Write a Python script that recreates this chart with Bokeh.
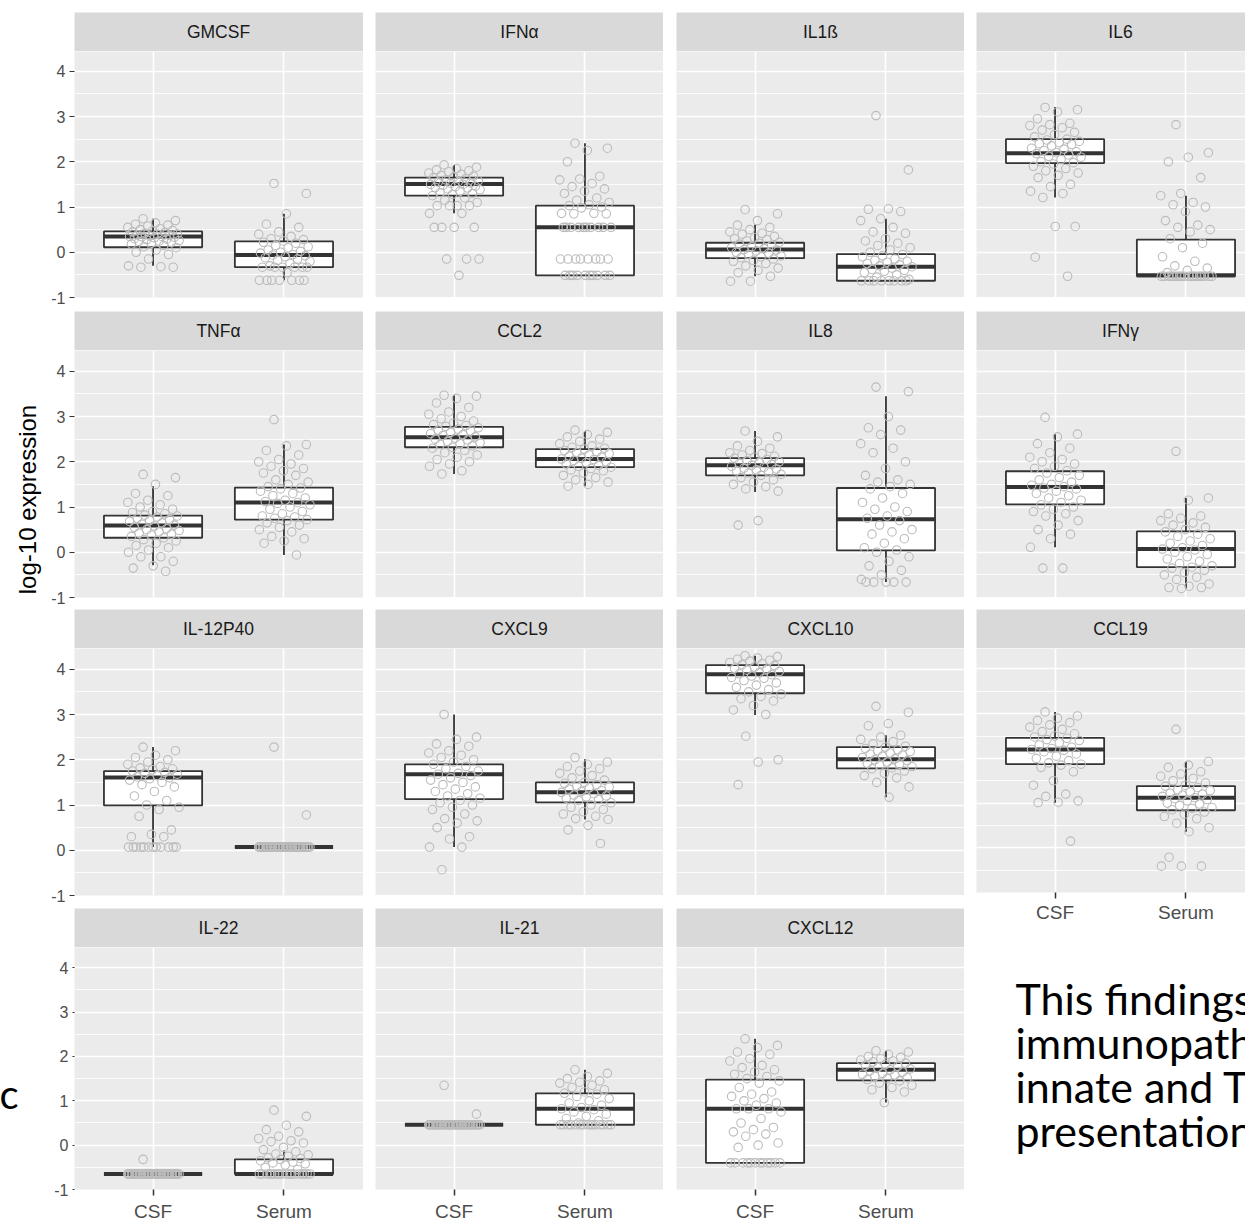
import math
from bokeh.plotting import figure
from bokeh.models import Range1d, FixedTicker, Grid, LinearAxis, Label, Spacer, ColumnDataSource
from bokeh.layouts import row, column
from bokeh.embed import file_html
from bokeh.resources import INLINE

# ---------------- data ----------------
names = ["GMCSF", "IFNα", "IL1ß", "IL6",
         "TNFα", "CCL2", "IL8", "IFNγ",
         "IL-12P40", "CXCL9", "CXCL10", "CCL19",
         "IL-22", "IL-21", "CXCL12"]
groups = ["CSF", "Serum"]
y_ticks = [-1, 0, 1, 2, 3, 4]
y_tick_text = {-1: "-1"}
y_minor = [-0.5, 0.5, 1.5, 2.5, 3.5, 4.5]

# box statistics per panel (same order as names)
q1_csf  = [0.11, 1.25, -0.13, 1.97, 0.32, 2.32, 1.70, 1.06, 0.99, 1.13, 3.47, 1.87, -0.65, 0.46, -0.40]
med_csf = [0.35, 1.51, 0.06, 2.19, 0.59, 2.54, 1.92, 1.44, 1.61, 1.68, 3.89, 2.20, -0.65, 0.46, 0.82]
q3_csf  = [0.46, 1.65, 0.21, 2.50, 0.81, 2.77, 2.08, 1.79, 1.75, 1.90, 4.09, 2.46, -0.65, 0.46, 1.48]
lo_csf  = [-0.30, 0.86, -0.53, 1.21, -0.29, 1.73, 1.33, 0.11, 0.07, 0.07, 2.99, 1.01, -0.65, 0.46, -0.40]
hi_csf  = [0.74, 1.93, 0.61, 3.21, 1.46, 3.47, 2.68, 2.61, 2.28, 3.00, 4.30, 3.04, -0.65, 0.46, 2.40]

q1_ser  = [-0.33, -0.51, -0.63, -0.53, 0.72, 1.88, 0.04, -0.33, 0.07, 1.06, 1.81, 0.84, -0.65, 0.46, 1.46]
med_ser = [-0.06, 0.55, -0.32, -0.51, 1.10, 2.06, 0.73, 0.07, 0.07, 1.28, 2.01, 1.12, -0.65, 0.82, 1.70]
q3_ser  = [0.24, 1.03, -0.04, 0.28, 1.43, 2.28, 1.42, 0.46, 0.07, 1.50, 2.28, 1.38, -0.32, 1.17, 1.85]
lo_ser  = [-0.62, -0.51, -0.63, -0.53, -0.06, 1.46, -0.66, -0.80, 0.07, 0.68, 1.17, 0.36, -0.65, 0.46, 0.96]
hi_ser  = [0.85, 2.41, 0.74, 1.25, 2.38, 2.68, 3.45, 1.20, 0.07, 2.01, 2.54, 1.93, -0.12, 1.70, 2.13]

# observed values (log10), per panel and compartment
gmcsf_csf = [0.74, 0.7, 0.65, 0.62, 0.6, 0.58, 0.55, 0.52, 0.5, 0.48, 0.47, 0.45, 0.44, 0.42, 0.4, 0.4,
             0.38, 0.37, 0.36, 0.35, 0.35, 0.34, 0.33, 0.32, 0.3, 0.29, 0.28, 0.26, 0.25, 0.24, 0.22, 0.2,
             0.18, 0.15, 0.12, 0.1, 0.05, 0.0, -0.05, -0.15, -0.3, -0.32, -0.33, -0.33]
gmcsf_ser = [1.52, 1.3, 0.85, 0.62, 0.55, 0.45, 0.4, 0.35, 0.3, 0.28, 0.25, 0.22, 0.2, 0.15, 0.12, 0.1,
             0.05, 0.02, 0.0, -0.02, -0.05, -0.06, -0.08, -0.1, -0.12, -0.15, -0.18, -0.2, -0.25, -0.3,
             -0.33, -0.33, -0.33, -0.33, -0.33, -0.33, -0.45, -0.62, -0.62, -0.62, -0.62, -0.62, -0.62, -0.62]
ifna_csf = [1.93, 1.88, 1.85, 1.82, 1.8, 1.78, 1.75, 1.72, 1.7, 1.68, 1.66, 1.65, 1.63, 1.6, 1.58, 1.56,
            1.55, 1.53, 1.52, 1.5, 1.5, 1.48, 1.46, 1.45, 1.43, 1.42, 1.4, 1.38, 1.35, 1.32, 1.3, 1.28,
            1.25, 1.2, 1.15, 1.1, 1.03, 1.03, 1.03, 1.03, 0.86, 0.86, 0.55, 0.55, 0.55, 0.55,
            -0.15, -0.15, -0.15, -0.51]
ifna_ser = [2.41, 2.3, 2.25, 2.0, 1.68, 1.62, 1.6, 1.52, 1.45, 1.4, 1.35, 1.3, 1.2, 1.15, 1.1, 1.05,
            1.03, 1.0, 0.98, 0.86, 0.86, 0.85, 0.85,
            0.55, 0.55, 0.55, 0.55, 0.55, 0.55, 0.55, 0.55, 0.55, 0.55,
            -0.15, -0.15, -0.15, -0.15, -0.15, -0.15, -0.15, -0.15,
            -0.51, -0.51, -0.51, -0.51, -0.51, -0.51, -0.51, -0.51, -0.51, -0.51]
il1b_csf = [0.94, 0.85, 0.7, 0.6, 0.55, 0.5, 0.45, 0.42, 0.4, 0.35, 0.32, 0.3, 0.28, 0.25, 0.22, 0.2,
            0.18, 0.15, 0.12, 0.1, 0.08, 0.06, 0.05, 0.03, 0.0, -0.02, -0.05, -0.08, -0.1, -0.12, -0.15,
            -0.18, -0.2, -0.25, -0.3, -0.35, -0.4, -0.45, -0.53, -0.64, -0.64]
il1b_ser = [3.02, 1.82, 0.96, 0.95, 0.9, 0.74, 0.7, 0.55, 0.45, 0.42, 0.3, 0.25, 0.2, 0.15, 0.1, 0.05,
            0.0, -0.05, -0.08, -0.1, -0.15, -0.18, -0.2, -0.22, -0.25, -0.28, -0.3, -0.32, -0.35, -0.38,
            -0.4, -0.42, -0.45, -0.5, -0.55, -0.6, -0.63, -0.63, -0.63, -0.63, -0.63, -0.63, -0.63, -0.63]
il6_csf = [3.2, 3.15, 3.1, 2.95, 2.85, 2.82, 2.8, 2.75, 2.7, 2.65, 2.6, 2.55, 2.5, 2.48, 2.45, 2.42,
           2.4, 2.38, 2.35, 2.3, 2.28, 2.25, 2.22, 2.2, 2.18, 2.15, 2.12, 2.1, 2.05, 2.0, 1.98, 1.95,
           1.9, 1.85, 1.8, 1.75, 1.7, 1.65, 1.5, 1.45, 1.35, 1.3, 1.21, 0.57, 0.57, -0.11, -0.53]
il6_ser = [2.82, 2.2, 2.1, 2.0, 1.65, 1.3, 1.25, 1.1, 1.05, 1.0, 0.9, 0.7, 0.6, 0.55, 0.5, 0.45, 0.3,
           0.2, 0.1, -0.1, -0.2, -0.3, -0.35, -0.4, -0.45,
           -0.53, -0.53, -0.53, -0.53, -0.53, -0.53, -0.53, -0.53, -0.53, -0.53, -0.53, -0.53,
           -0.53, -0.53, -0.53, -0.53, -0.53, -0.53]
tnfa_csf = [1.72, 1.65, 1.5, 1.3, 1.25, 1.15, 1.1, 1.05, 1.0, 0.95, 0.9, 0.88, 0.85, 0.82, 0.8, 0.78,
            0.75, 0.72, 0.7, 0.68, 0.65, 0.62, 0.6, 0.58, 0.55, 0.52, 0.5, 0.48, 0.45, 0.42, 0.4, 0.38,
            0.35, 0.32, 0.28, 0.25, 0.2, 0.15, 0.1, 0.05, 0.0, -0.1, -0.1, -0.2, -0.3, -0.35, -0.42]
tnfa_ser = [2.93, 2.38, 2.35, 2.25, 2.15, 2.05, 2.0, 1.95, 1.9, 1.85, 1.8, 1.75, 1.7, 1.6, 1.55, 1.5,
            1.45, 1.42, 1.4, 1.35, 1.3, 1.25, 1.2, 1.15, 1.12, 1.1, 1.08, 1.05, 1.0, 0.95, 0.9, 0.85,
            0.8, 0.78, 0.75, 0.72, 0.7, 0.65, 0.6, 0.55, 0.5, 0.45, 0.35, 0.3, 0.25, 0.2, -0.06]
ccl2_csf = [3.47, 3.45, 3.4, 3.3, 3.2, 3.1, 3.05, 3.0, 2.95, 2.9, 2.85, 2.82, 2.8, 2.78, 2.75, 2.72,
            2.7, 2.68, 2.65, 2.62, 2.6, 2.58, 2.55, 2.52, 2.5, 2.48, 2.45, 2.42, 2.4, 2.38, 2.35, 2.32,
            2.3, 2.25, 2.2, 2.15, 2.1, 2.05, 2.0, 1.95, 1.9, 1.8, 1.73]
ccl2_ser = [2.7, 2.65, 2.6, 2.55, 2.5, 2.45, 2.4, 2.35, 2.32, 2.3, 2.28, 2.25, 2.22, 2.2, 2.18, 2.15,
            2.12, 2.1, 2.08, 2.06, 2.05, 2.03, 2.0, 1.98, 1.95, 1.92, 1.9, 1.88, 1.85, 1.82, 1.8, 1.75,
            1.7, 1.65, 1.6, 1.55, 1.5, 1.46]
il8_csf = [2.68, 2.55, 2.45, 2.35, 2.3, 2.25, 2.2, 2.18, 2.15, 2.12, 2.1, 2.08, 2.05, 2.02, 2.0, 1.98,
           1.96, 1.94, 1.92, 1.9, 1.88, 1.86, 1.84, 1.82, 1.8, 1.78, 1.75, 1.72, 1.7, 1.65, 1.6, 1.55,
           1.5, 1.45, 1.4, 1.35, 0.7, 0.6]
il8_ser = [3.65, 3.55, 3.0, 2.75, 2.7, 2.6, 2.4, 2.3, 2.2, 2.0, 1.85, 1.7, 1.6, 1.55, 1.5, 1.45, 1.4,
           1.3, 1.2, 1.1, 1.0, 0.95, 0.9, 0.8, 0.75, 0.7, 0.6, 0.5, 0.45, 0.4, 0.3, 0.2, 0.1, 0.05, 0.0,
           -0.1, -0.2, -0.3, -0.4, -0.5, -0.6, -0.66, -0.66, -0.66, -0.66, -0.66]
ifng_csf = [2.98, 2.61, 2.55, 2.4, 2.3, 2.2, 2.1, 2.05, 2.0, 1.95, 1.9, 1.85, 1.8, 1.75, 1.7, 1.65,
            1.6, 1.55, 1.5, 1.48, 1.45, 1.42, 1.4, 1.35, 1.3, 1.25, 1.2, 1.15, 1.1, 1.05, 1.0, 0.95,
            0.9, 0.85, 0.8, 0.7, 0.6, 0.5, 0.4, 0.3, 0.11, -0.35, -0.35]
ifng_ser = [2.23, 1.2, 1.15, 0.85, 0.8, 0.75, 0.7, 0.65, 0.6, 0.55, 0.5, 0.45, 0.4, 0.35, 0.3, 0.25,
            0.2, 0.15, 0.1, 0.07, 0.05, 0.0, -0.05, -0.1, -0.15, -0.2, -0.25, -0.3, -0.33, -0.35, -0.4,
            -0.45, -0.5, -0.55, -0.6, -0.7, -0.75, -0.78, -0.78, -0.8]
il12_csf = [2.28, 2.2, 2.1, 2.05, 2.0, 1.95, 1.9, 1.85, 1.82, 1.8, 1.78, 1.75, 1.72, 1.7, 1.68, 1.65,
            1.62, 1.6, 1.58, 1.55, 1.5, 1.45, 1.4, 1.3, 1.2, 1.1, 1.0, 0.95, 0.9, 0.75, 0.45, 0.35,
            0.3, 0.3, 0.07, 0.07, 0.07, 0.07, 0.07, 0.07, 0.07, 0.07, 0.07, 0.07, 0.07, 0.07]
il12_ser = [2.28, 0.78] + [0.07] * 40
cxcl9_csf = [3.0, 2.5, 2.45, 2.35, 2.3, 2.2, 2.15, 2.1, 2.05, 2.0, 1.95, 1.9, 1.85, 1.8, 1.75, 1.7,
             1.68, 1.65, 1.6, 1.55, 1.5, 1.45, 1.4, 1.35, 1.3, 1.25, 1.2, 1.15, 1.1, 1.05, 1.0, 0.95,
             0.9, 0.8, 0.7, 0.65, 0.6, 0.5, 0.3, 0.25, 0.07, 0.07, -0.43]
cxcl9_ser = [2.05, 1.95, 1.9, 1.85, 1.8, 1.75, 1.7, 1.65, 1.6, 1.55, 1.5, 1.48, 1.45, 1.42, 1.4, 1.38,
             1.35, 1.32, 1.3, 1.28, 1.25, 1.22, 1.2, 1.18, 1.15, 1.12, 1.1, 1.05, 1.0, 0.95, 0.9, 0.85,
             0.8, 0.75, 0.7, 0.68, 0.55, 0.45, 0.15]
cxcl10_csf = [4.3, 4.28, 4.25, 4.22, 4.2, 4.18, 4.15, 4.12, 4.1, 4.08, 4.05, 4.02, 4.0, 3.98, 3.95,
              3.92, 3.9, 3.88, 3.85, 3.82, 3.8, 3.75, 3.7, 3.65, 3.6, 3.55, 3.5, 3.45, 3.4, 3.35, 3.3,
              3.2, 3.1, 3.0, 2.52, 2.0, 1.95, 1.45]
cxcl10_ser = [3.18, 3.05, 2.8, 2.75, 2.54, 2.5, 2.45, 2.4, 2.35, 2.3, 2.28, 2.25, 2.22, 2.2, 2.18,
              2.15, 2.12, 2.1, 2.08, 2.05, 2.02, 2.0, 1.98, 1.95, 1.92, 1.9, 1.88, 1.85, 1.82, 1.8,
              1.75, 1.7, 1.65, 1.6, 1.5, 1.4, 1.17]
ccl19_csf = [3.04, 2.95, 2.9, 2.85, 2.8, 2.75, 2.7, 2.65, 2.6, 2.55, 2.5, 2.48, 2.45, 2.42, 2.4, 2.35,
             2.3, 2.25, 2.22, 2.2, 2.18, 2.15, 2.1, 2.05, 2.0, 1.95, 1.9, 1.87, 1.85, 1.8, 1.7, 1.5,
             1.4, 1.2, 1.15, 1.05, 1.02, 1.01, 0.15]
ccl19_ser = [2.65, 1.93, 1.85, 1.8, 1.7, 1.65, 1.6, 1.55, 1.5, 1.45, 1.4, 1.38, 1.35, 1.3, 1.28, 1.25,
             1.22, 1.2, 1.18, 1.15, 1.12, 1.1, 1.08, 1.05, 1.0, 0.98, 0.95, 0.9, 0.88, 0.85, 0.8, 0.75,
             0.7, 0.65, 0.55, 0.45, 0.36, -0.21, -0.41, -0.41, -0.41]
il22_csf = [-0.32] + [-0.65] * 40
il22_ser = [0.79, 0.65, 0.45, 0.35, 0.3, 0.2, 0.15, 0.1, 0.08, 0.05, -0.05, -0.1, -0.15, -0.2, -0.22,
            -0.25, -0.28, -0.3, -0.32, -0.35, -0.38, -0.4, -0.42, -0.45, -0.5, -0.55] + [-0.65] * 18
il21_csf = [1.35, 0.7] + [0.46] * 40
il21_ser = [1.7, 1.62, 1.55, 1.5, 1.45, 1.42, 1.4, 1.35, 1.3, 1.25, 1.2, 1.17, 1.15, 1.1, 1.05, 1.0,
            0.95, 0.9, 0.85, 0.82, 0.8, 0.75, 0.7, 0.65, 0.6, 0.55, 0.5] + [0.46] * 15
cxcl12_csf = [2.4, 2.25, 2.2, 2.1, 2.05, 1.95, 1.9, 1.8, 1.75, 1.7, 1.65, 1.6, 1.55, 1.5, 1.45, 1.4,
              1.3, 1.2, 1.15, 1.1, 1.05, 1.0, 0.95, 0.9, 0.82, 0.82, 0.82, 0.75, 0.6, 0.5, 0.4, 0.35,
              0.3, 0.25, 0.2, 0.05, 0.0, -0.05] + [-0.4] * 12
cxcl12_ser = [2.13, 2.1, 2.05, 2.0, 1.98, 1.95, 1.92, 1.9, 1.88, 1.85, 1.82, 1.8, 1.78, 1.75, 1.72,
              1.7, 1.68, 1.65, 1.62, 1.6, 1.58, 1.55, 1.52, 1.5, 1.48, 1.45, 1.4, 1.35, 1.3, 1.25,
              1.2, 0.96]

points = [(gmcsf_csf, gmcsf_ser), (ifna_csf, ifna_ser), (il1b_csf, il1b_ser), (il6_csf, il6_ser),
          (tnfa_csf, tnfa_ser), (ccl2_csf, ccl2_ser), (il8_csf, il8_ser), (ifng_csf, ifng_ser),
          (il12_csf, il12_ser), (cxcl9_csf, cxcl9_ser), (cxcl10_csf, cxcl10_ser), (ccl19_csf, ccl19_ser),
          (il22_csf, il22_ser), (il21_csf, il21_ser), (cxcl12_csf, cxcl12_ser)]

y_title = "log-10 expression"
slide_lines = ["This findings", "immunopath", "innate and T", "presentation"]
slide_left = "c"

# ---------------- styling / layout ----------------
FONT = "Liberation Sans"
PX_X = 288 / 2.2      # pixels per x unit
PX_Y = 45.25          # pixels per y unit
BOX_W = 0.75
JIT = 0.2
BOX_COL = "#333333"
PT_COL = "#BBBBBB"


def jitter(n, center):
    return [center + JIT * (2 * ((i * 0.6180339887 + 0.31) % 1.0) - 1) for i in range(n)]


def strip_fig(name, wf, bl):
    s = figure(width=wf + bl, height=39, x_range=Range1d(0, wf / 288), y_range=Range1d(0, 1),
               x_axis_type=None, y_axis_type=None, toolbar_location=None, output_backend="svg",
               min_border_left=bl, min_border_right=0, min_border_top=0, min_border_bottom=0,
               background_fill_color="#D9D9D9", border_fill_color="white", outline_line_color=None)
    s.add_layout(Label(x=0.5, y=0.5, text=name, text_align="center", text_baseline="middle",
                       text_font=FONT, text_font_size="17.5px", text_color="#1A1A1A"))
    return s


def panel_fig(i, wf, hf, left_axis, bottom_axis, extra_bottom, tick_len=5, x_standoff=3):
    bl = 30 if left_axis else 0
    bb = 30 if bottom_axis else extra_bottom
    p = figure(width=wf + bl, height=hf + bb,
               x_range=Range1d(0.4, 0.4 + wf / PX_X), y_range=Range1d(-1, -1 + hf / PX_Y),
               x_axis_type=None, y_axis_type=None, toolbar_location=None, output_backend="svg",
               min_border_left=bl, min_border_right=0, min_border_top=0, min_border_bottom=bb,
               background_fill_color="#EBEBEB", border_fill_color="white", outline_line_color=None)
    p.add_layout(Grid(dimension=0, ticker=FixedTicker(ticks=[1, 2]),
                      grid_line_color="white", grid_line_width=1.6))
    p.add_layout(Grid(dimension=1, ticker=FixedTicker(ticks=y_ticks, minor_ticks=y_minor),
                      grid_line_color="white", grid_line_width=1.6,
                      minor_grid_line_color="white", minor_grid_line_width=0.8))
    if left_axis:
        ya = LinearAxis(ticker=FixedTicker(ticks=y_ticks), axis_line_color=None,
                        major_label_overrides=y_tick_text,
                        major_tick_line_color=BOX_COL, major_tick_line_width=1.2,
                        major_tick_out=tick_len, major_tick_in=0, minor_tick_out=0, minor_tick_in=0,
                        major_label_text_font=FONT, major_label_text_font_size="16px",
                        major_label_text_color="#4D4D4D", major_label_standoff=4)
        p.add_layout(ya, "left")
    if bottom_axis:
        xa = LinearAxis(ticker=FixedTicker(ticks=[1, 2]), axis_line_color=None,
                        major_label_overrides={1: groups[0], 2: groups[1]},
                        major_tick_line_color=BOX_COL, major_tick_line_width=1.5,
                        major_tick_out=6, major_tick_in=0, minor_tick_out=0, minor_tick_in=0,
                        major_label_text_font=FONT, major_label_text_font_size="19px",
                        major_label_text_color="#4D4D4D", major_label_standoff=x_standoff)
        p.add_layout(xa, "below")

    xs = [1, 2]
    src = ColumnDataSource(dict(
        x=xs, x0=[v - BOX_W / 2 for v in xs], x1=[v + BOX_W / 2 for v in xs],
        q1=[q1_csf[i], q1_ser[i]], med=[med_csf[i], med_ser[i]], q3=[q3_csf[i], q3_ser[i]],
        lo=[lo_csf[i], lo_ser[i]], hi=[hi_csf[i], hi_ser[i]]))
    p.segment(x0="x", y0="lo", x1="x", y1="q1", source=src, line_color=BOX_COL, line_width=1.8)
    p.segment(x0="x", y0="q3", x1="x", y1="hi", source=src, line_color=BOX_COL, line_width=1.8)
    p.vbar(x="x", bottom="q1", top="q3", width=BOX_W, source=src,
           fill_color="white", line_color=BOX_COL, line_width=1.8)
    p.segment(x0="x0", y0="med", x1="x1", y1="med", source=src, line_color=BOX_COL, line_width=4)

    for g, vals in zip(xs, points[i]):
        p.scatter(x=jitter(len(vals), g), y=vals, marker="circle", size=8.5,
                  fill_color=None, line_color=PT_COL, line_width=1.1)
    return p


col_x_widths = [289, 288, 288, 269]
row_heights = [246, 247, 247, 247]
row_gaps = [12, 14, 12, 13]
H_TOTAL = 1228
EXTRA = 8   # room below the column-1 panels for the "-1" label

columns = []
for c in range(4):
    wf = col_x_widths[c]
    bl = 30 if c == 0 else 0
    kids = []
    nrows = 4 if c < 3 else 3
    prev_extra = 0
    for r in range(nrows):
        i = r * 4 + c
        kids.append(Spacer(width=wf + bl, height=row_gaps[r] - prev_extra))
        kids.append(strip_fig(names[i], wf, bl))
        bottom = (r == 3) or (c == 3 and r == 2)
        extra = EXTRA if (c == 0 and not bottom) else 0
        kids.append(panel_fig(i, wf, row_heights[r], left_axis=(c == 0), bottom_axis=bottom,
                              extra_bottom=extra, tick_len=(2 if r == 3 else 5),
                              x_standoff=(5 if r == 3 else 3)))
        prev_extra = extra
    if c == 3:
        used = sum(row_gaps[:3]) + 3 * 39 + sum(row_heights[:3]) + 30
        ht = H_TOTAL - used
        t = figure(width=wf, height=ht, x_range=Range1d(0, wf), y_range=Range1d(0, ht),
                   x_axis_type=None, y_axis_type=None, toolbar_location=None, output_backend="svg",
                   min_border_left=0, min_border_right=0, min_border_top=0, min_border_bottom=0,
                   background_fill_color="white", border_fill_color="white", outline_line_color=None)
        for k, line in enumerate(slide_lines):
            base = 73 + 44 * k
            t.add_layout(Label(x=39, y=ht - base, text=line, text_align="left",
                               text_baseline="alphabetic", text_font="Lato",
                               text_font_size="43px", text_color="#000000"))
        kids.append(t)
    columns.append(column(kids, spacing=0))

left = figure(width=44, height=H_TOTAL, x_range=Range1d(0, 44), y_range=Range1d(0, H_TOTAL),
              x_axis_type=None, y_axis_type=None, toolbar_location=None, output_backend="svg",
              min_border_left=0, min_border_right=0, min_border_top=0, min_border_bottom=0,
              background_fill_color="white", border_fill_color="white", outline_line_color=None)
left.add_layout(Label(x=27, y=H_TOTAL - 499, text=y_title, angle=math.pi / 2,
                      text_align="center", text_baseline="middle", text_font=FONT,
                      text_font_size="24px", text_color="#000000"))
left.add_layout(Label(x=-1, y=H_TOTAL - 1093, text=slide_left, text_align="left",
                      text_baseline="alphabetic", text_font="Lato", text_font_size="40px",
                      text_color="#000000"))

layout = row([left, columns[0], Spacer(width=12, height=10), columns[1], Spacer(width=13, height=10),
              columns[2], Spacer(width=12, height=10), columns[3]], spacing=0)

with open("out.html", "w") as f:
    f.write(file_html(layout, INLINE))
